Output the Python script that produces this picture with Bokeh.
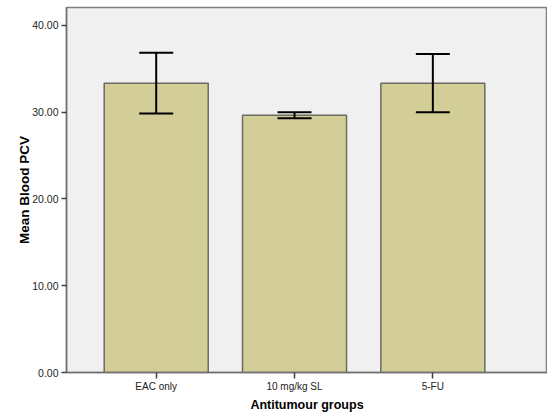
from bokeh.plotting import figure
from bokeh.models import ColumnDataSource, FixedTicker, Whisker, TeeHead, Range1d, NumeralTickFormatter
from bokeh.embed import file_html
from bokeh.resources import INLINE

groups = ["EAC only", "10 mg/kg SL", "5-FU"]
means = [33.35, 29.66, 33.35]
upper = [36.85, 30.0, 36.7]
lower = [29.86, 29.3, 30.0]
y_ticks = [0, 10, 20, 30, 40]

xs = list(range(len(groups)))
src = ColumnDataSource(dict(x=xs, top=means, upper=upper, lower=lower))

p = figure(width=547, height=417, output_backend="svg", toolbar_location=None,
           x_range=Range1d(-0.6486, 2.829), y_range=Range1d(0, 42.07),
           min_border_left=66, min_border_right=0, min_border_top=7, min_border_bottom=45)
p.background_fill_color = "#F0F0F0"
p.border_fill_color = "white"
p.outline_line_color = "#808080"
p.outline_line_width = 1.5
p.grid.visible = False

p.vbar(x="x", top="top", width=0.752, source=src, fill_color="#D3CE97",
       line_color="#6b6b60", line_width=1.5)

w = Whisker(base="x", upper="upper", lower="lower", source=src,
            line_color="black", line_width=2, level="overlay",
            upper_head=TeeHead(size=34, line_color="black", line_width=2),
            lower_head=TeeHead(size=34, line_color="black", line_width=2))
p.add_layout(w)

p.xaxis.ticker = FixedTicker(ticks=xs)
p.xaxis.major_label_overrides = {i: g for i, g in enumerate(groups)}
p.yaxis.ticker = FixedTicker(ticks=y_ticks)
p.yaxis.formatter = NumeralTickFormatter(format="0.00")

for ax in (p.xaxis[0], p.yaxis[0]):
    ax.axis_line_color = "#707070"
    ax.axis_line_width = 1.5
    ax.major_tick_line_color = "#404040"
    ax.major_tick_line_width = 1.5
    ax.major_tick_in = 0
    ax.major_tick_out = 5
    ax.minor_tick_line_color = None
    ax.major_label_text_font = "Liberation Sans"
    ax.major_label_text_font_size = "10px"
    ax.major_label_text_color = "#222222"
    ax.axis_label_text_font = "Liberation Sans"
    ax.axis_label_text_font_style = "bold"
    ax.axis_label_text_font_size = "12.5px"
    ax.axis_label_text_color = "black"

p.yaxis.major_label_text_font_size = "10.5px"
p.yaxis.axis_label_text_font_size = "13.5px"
p.xaxis.axis_label = "Antitumour groups"
p.yaxis.axis_label = "Mean Blood PCV"
p.xaxis.major_tick_out = 6
p.xaxis.major_label_standoff = 2
p.xaxis.axis_label_standoff = 3
p.yaxis.major_label_standoff = 3
p.yaxis.axis_label_standoff = -3

open("out.html", "w").write(file_html(p, INLINE))
